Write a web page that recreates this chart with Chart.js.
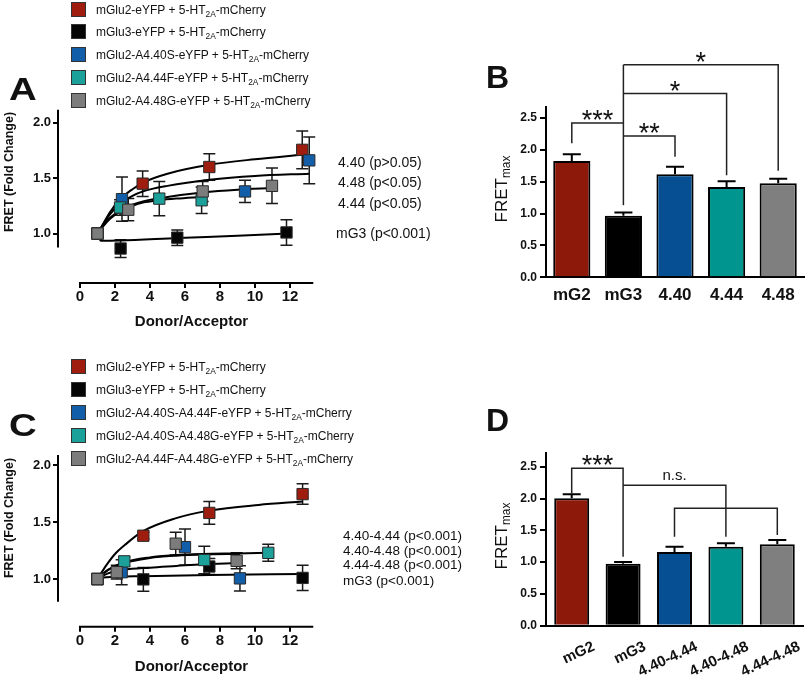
<!DOCTYPE html>
<html>
<head>
<meta charset="utf-8">
<title>FRET saturation and FRETmax</title>
<script src="https://cdn.jsdelivr.net/npm/chart.js"></script>
<style>
  body { margin: 0; background: #fff; width: 805px; height: 686px; position: relative; overflow: hidden;
         font-family: "Liberation Sans", Arial, Helvetica, sans-serif; color: #111; }
  canvas { position: absolute; }
  .t { position: absolute; white-space: nowrap; line-height: 1; }
  .sq { position: absolute; width: 13px; height: 13px; border: 1.5px solid #333; }
  .t sub { font-size: 0.7em; vertical-align: -0.3em; line-height: 0; }
  .rot { transform: translate(-50%, -50%) rotate(-90deg); }
  .wide { transform: scaleX(1.2); transform-origin: left top; }
</style>
</head>
<body>
<canvas id="chartA" width="335" height="235" style="left:0;top:100px"></canvas>
<canvas id="chartB" width="385" height="290" style="left:420px;top:40px"></canvas>
<canvas id="chartC" width="335" height="241" style="left:0;top:445px"></canvas>
<canvas id="chartD" width="385" height="296" style="left:420px;top:390px"></canvas>
<div id="overlay"></div>
<script>
const FONT = '"Liberation Sans", Arial, Helvetica, sans-serif';
Chart.defaults.font.family = FONT;
Chart.defaults.color = '#111';

// ---------- data ----------
const donorsA = ['mGlu2-eYFP', 'mGlu3-eYFP', 'mGlu2-A4.40S-eYFP', 'mGlu2-A4.44F-eYFP', 'mGlu2-A4.48G-eYFP'];
const donorsC = ['mGlu2-eYFP', 'mGlu3-eYFP', 'mGlu2-A4.40S-A4.44F-eYFP', 'mGlu2-A4.40S-A4.48G-eYFP', 'mGlu2-A4.44F-A4.48G-eYFP'];
const seriesColors = ['#9e1d0f', '#050505', '#135ea8', '#1ca09a', '#7c7c7c'];
const barColors = ['#8d190b', '#000000', '#064f92', '#00958f', '#7f7f7f'];

// points: [donor/acceptor, FRET fold change, SEM]
const ptsA_mG2 = [[1, 1, 0], [3.58, 1.45, 0.115], [7.39, 1.60, 0.12], [12.7, 1.755, 0.17]];
const ptsA_mG3 = [[1, 1, 0], [2.32, 0.865, 0.08], [5.56, 0.963, 0.07], [11.8, 1.01, 0.115]];
const ptsA_440 = [[1, 1, 0], [2.4, 1.31, 0.2], [9.43, 1.38, 0.1], [13.1, 1.66, 0.21]];
const ptsA_444 = [[1, 1, 0], [2.29, 1.235, 0.07], [4.53, 1.315, 0.155], [6.95, 1.30, 0.12]];
const ptsA_448 = [[1, 1, 0], [2.76, 1.215, 0.1], [7.01, 1.38, 0.09], [10.97, 1.43, 0.16]];

// fitted curves: [x, y]
const fitA_mG2 = [[1, 1], [1.3, 1.08], [1.7, 1.19], [2.3, 1.31], [3, 1.40], [3.6, 1.46], [5, 1.54], [7.4, 1.62], [10, 1.67], [12.7, 1.71]];
const fitA_mG3 = [[1, 0.99], [1.2, 0.935], [2.3, 0.938], [5.6, 0.96], [9, 0.98], [11.9, 1.0]];
const fitA_440 = [[1, 1], [1.3, 1.08], [1.7, 1.17], [2.3, 1.27], [3, 1.34], [3.6, 1.38], [5, 1.43], [7.4, 1.485], [10, 1.52], [13.1, 1.54]];
const fitA_444 = [[1, 1], [1.3, 1.06], [1.7, 1.13], [2.3, 1.2], [3, 1.25], [3.6, 1.28], [4.5, 1.30], [5.5, 1.315], [6.95, 1.33]];
const fitA_448 = [[1, 1], [1.3, 1.07], [1.7, 1.14], [2.3, 1.21], [3, 1.26], [3.6, 1.29], [5, 1.33], [7, 1.37], [9, 1.395], [11, 1.41]];

const ptsC_mG2 = [[1, 1, 0], [3.62, 1.38, 0.03], [7.39, 1.58, 0.1], [12.72, 1.745, 0.09]];
const ptsC_mG3 = [[1, 1, 0], [3.62, 0.997, 0.105], [7.39, 1.11, 0.07], [12.72, 1.01, 0.11]];
const ptsC_440_444 = [[1, 1, 0], [2.38, 1.06, 0.11], [6.0, 1.28, 0.16], [9.14, 1.006, 0.11]];
const ptsC_440_448 = [[1, 1, 0], [2.53, 1.155, 0.04], [7.1, 1.167, 0.12], [10.76, 1.23, 0.075]];
const ptsC_444_448 = [[1, 1, 0], [2.1, 1.06, 0.06], [5.47, 1.31, 0.1], [8.95, 1.16, 0.07]];

const fitC_mG2 = [[1, 1], [1.5, 1.12], [2, 1.22], [2.57, 1.30], [3.6, 1.42], [5.4, 1.53], [7.4, 1.60], [10.2, 1.65], [12.72, 1.68]];
const fitC_mG3 = [[1, 1], [1.5, 1.015], [3.6, 1.025], [7.4, 1.035], [12.72, 1.045]];
const fitC_440_444 = [[1, 1], [1.6, 1.08], [2.5, 1.14], [4, 1.185], [5.5, 1.205], [7, 1.215], [9.14, 1.22]];
const fitC_440_448 = [[1, 1], [1.6, 1.08], [2.5, 1.145], [4, 1.19], [5.5, 1.21], [7, 1.22], [9, 1.225], [10.76, 1.23]];
const fitC_444_448 = [[1, 1], [1.6, 1.05], [2.5, 1.08], [4, 1.10], [5.5, 1.115], [7, 1.13], [8.95, 1.14]];

const xTicksFret = [0, 2, 4, 6, 8, 10, 12];
const yTicksFret = [1.0, 1.5, 2.0];

const catsB = ['mG2', 'mG3', '4.40', '4.44', '4.48'];
const fretMaxB = [1.823, 0.966, 1.614, 1.415, 1.473];
const semB = [0.105, 0.05, 0.12, 0.09, 0.07];

const catsD = ['mG2', 'mG3', '4.40-4.44', '4.40-4.48', '4.44-4.48'];
const fretMaxD = [2.003, 0.975, 1.159, 1.242, 1.28];
const semD = [0.063, 0.025, 0.083, 0.053, 0.068];

const yTicksBar = [0, 0.5, 1.0, 1.5, 2.0, 2.5];

const pLabelsA = ['4.40 (p>0.05)', '4.48 (p<0.05)', '4.44 (p<0.05)', 'mG3 (p<0.001)'];
const pLabelsC = ['4.40-4.44 (p<0.001)', '4.40-4.48 (p<0.001)', '4.44-4.48 (p<0.001)', 'mG3 (p<0.001)'];

// significance brackets: paths of [category index, value]
const bracketsB = [
  [[0, 2.10], [0, 2.42], [1, 2.42]],
  [[1, 3.33], [1, 1.13]],
  [[1, 2.215], [2, 2.215], [2, 1.89]],
  [[1, 2.88], [3, 2.88], [3, 1.60]],
  [[1, 3.33], [4, 3.33], [4, 1.67]]
];
const starsB = [['***', 0.5, 2.42], ['**', 1.5, 2.215], ['*', 2, 2.88], ['*', 2.5, 3.33]];
const bracketsD = [
  [[0, 2.08], [0, 2.475], [1, 2.475], [1, 1.085]],
  [[1, 2.21], [3, 2.21], [3, 1.40]],
  [[2, 1.40], [2, 1.845], [4, 1.845], [4, 1.426]]
];
const starsD = [['***', 0.5, 2.475], ['n.s.', 2, 2.21]];

// ---------- plugins ----------
function axisLinesPlugin(xRange, yRange) {
  return {
    id: 'axisLines',
    afterDraw(chart) {
      const {ctx, chartArea, scales} = chart;
      ctx.save();
      ctx.strokeStyle = '#000';
      ctx.lineWidth = 2;
      ctx.beginPath();
      ctx.moveTo(scales.x.getPixelForValue(xRange[0]) - 1, chartArea.bottom);
      ctx.lineTo(scales.x.getPixelForValue(xRange[1]), chartArea.bottom);
      ctx.moveTo(chartArea.left, scales.y.getPixelForValue(yRange[0]));
      ctx.lineTo(chartArea.left, scales.y.getPixelForValue(yRange[1]));
      ctx.stroke();
      ctx.restore();
    }
  };
}

const scatterErr = {
  id: 'scatterErr',
  beforeDatasetsDraw(chart) {
    const {ctx, scales: {y}} = chart;
    ctx.save();
    ctx.strokeStyle = '#1a1a1a';
    ctx.lineWidth = 1.5;
    chart.data.datasets.forEach((ds, i) => {
      if (!ds.errors) return;
      const meta = chart.getDatasetMeta(i);
      meta.data.forEach((pt, j) => {
        const e = ds.errors[j];
        if (!e) return;
        const v = ds.data[j].y;
        const t = y.getPixelForValue(v + e), b = y.getPixelForValue(v - e);
        ctx.beginPath();
        ctx.moveTo(pt.x, t); ctx.lineTo(pt.x, b);
        ctx.moveTo(pt.x - 6, t); ctx.lineTo(pt.x + 6, t);
        ctx.moveTo(pt.x - 6, b); ctx.lineTo(pt.x + 6, b);
        ctx.stroke();
      });
    });
    ctx.restore();
  }
};

const barErr = {
  id: 'barErr',
  afterDatasetsDraw(chart) {
    const {ctx, scales: {y}} = chart;
    ctx.save();
    ctx.strokeStyle = '#000';
    ctx.lineWidth = 2;
    chart.data.datasets.forEach((ds, i) => {
      chart.getDatasetMeta(i).data.forEach((bar, j) => {
        const base = y.getPixelForValue(ds.data[j]);
        const top = y.getPixelForValue(ds.data[j] + ds.errors[j]);
        ctx.beginPath();
        ctx.moveTo(bar.x, base); ctx.lineTo(bar.x, top);
        ctx.moveTo(bar.x - 9, top); ctx.lineTo(bar.x + 9, top);
        ctx.stroke();
      });
    });
    ctx.restore();
  }
};

function bracketPlugin(paths, labels) {
  return {
    id: 'brackets',
    afterDraw(chart) {
      const {ctx, scales: {x, y}} = chart;
      ctx.save();
      ctx.strokeStyle = '#222';
      ctx.lineWidth = 1.5;
      paths.forEach(path => {
        ctx.beginPath();
        path.forEach(([i, v], k) => {
          const px = x.getPixelForValue(i), py = y.getPixelForValue(v);
          if (k) ctx.lineTo(px, py); else ctx.moveTo(px, py);
        });
        ctx.stroke();
      });
      ctx.fillStyle = '#111';
      ctx.textAlign = 'center';
      labels.forEach(([txt, i, v]) => {
        const star = txt.indexOf('*') >= 0;
        ctx.font = star ? '27px ' + FONT : '15px ' + FONT;
        ctx.fillText(txt, x.getPixelForValue(i), y.getPixelForValue(v) + (star ? 6 : -5));
      });
      ctx.restore();
    }
  };
}

// ---------- charts ----------
function makeScatter(id, pts, fits, o) {
  const datasets = [];
  fits.forEach(f => datasets.push({
    type: 'line',
    data: f.map(p => ({x: p[0], y: p[1]})),
    borderColor: '#000', borderWidth: 2, pointRadius: 0, fill: false,
    cubicInterpolationMode: 'monotone', order: 10
  }));
  pts.forEach((s, i) => datasets.push({
    type: 'scatter',
    data: s.map(p => ({x: p[0], y: p[1]})),
    errors: s.map(p => p[2]),
    pointStyle: 'rect', pointRadius: 8,
    backgroundColor: seriesColors[i], borderColor: '#2a2a2a', borderWidth: 1,
    order: 5 - i, clip: false
  }));
  return new Chart(document.getElementById(id), {
    type: 'scatter',
    data: {datasets},
    plugins: [scatterErr, axisLinesPlugin([0, 13.33], [o.yFrom, o.yMax])],
    options: {
      responsive: false, animation: false, events: [],
      layout: {padding: {top: o.padTop, right: 10, left: 0, bottom: 0}},
      plugins: {legend: {display: false}, tooltip: {enabled: false}},
      scales: {
        x: {
          type: 'linear', min: -1.257, max: 14,
          afterBuildTicks: s => { s.ticks = xTicksFret.map(v => ({value: v})); },
          afterFit: s => { s.height = o.xHeight; },
          border: {display: false},
          grid: {drawOnChartArea: false, tickLength: 5, lineWidth: 2, color: '#000'},
          ticks: {font: {size: 15, weight: 'bold'}, padding: 0, color: '#111'},
          title: {display: true, text: 'Donor/Acceptor', font: {size: 15, weight: 'bold'}, color: '#111',
                  padding: {top: 0, bottom: o.titlePad}}
        },
        y: {
          type: 'linear', min: o.yMin, max: o.yMax,
          afterBuildTicks: s => { s.ticks = yTicksFret.map(v => ({value: v})); },
          afterFit: s => { s.width = 58; },
          border: {display: false},
          grid: {drawOnChartArea: false, tickLength: 5, lineWidth: 2, color: '#000'},
          ticks: {font: {size: 13, weight: 'bold'}, padding: 2, color: '#111', callback: v => v.toFixed(1)}
        }
      }
    }
  });
}

function makeBars(id, cats, vals, errs, paths, labels, o) {
  return new Chart(document.getElementById(id), {
    type: 'bar',
    data: {
      labels: cats,
      datasets: [{
        data: vals, errors: errs,
        backgroundColor: barColors, borderColor: '#000', borderWidth: 2,
        barPercentage: o.barPct, categoryPercentage: 1
      }]
    },
    plugins: [barErr, bracketPlugin(paths, labels)],
    options: {
      responsive: false, animation: false, events: [],
      layout: {padding: {top: o.padTop, right: o.padRight, left: 0, bottom: 0}},
      plugins: {legend: {display: false}, tooltip: {enabled: false}},
      scales: {
        x: {
          afterFit: s => { s.height = o.xHeight; },
          grid: {display: false, drawTicks: false},
          border: {display: true, width: 2, color: '#000'},
          ticks: {font: {size: o.xFont, weight: 'bold'}, color: '#111', padding: o.xPad,
                  minRotation: o.rot, maxRotation: o.rot, labelOffset: o.labelOffset, autoSkip: false}
        },
        y: {
          min: 0, max: o.yMax,
          afterBuildTicks: s => { s.ticks = yTicksBar.map(v => ({value: v})); },
          afterFit: s => { s.width = 126; },
          border: {display: true, width: 2, color: '#000'},
          grid: {drawOnChartArea: false, tickLength: 6, lineWidth: 2, color: '#000'},
          ticks: {font: {size: 12, weight: 'bold'}, padding: 3, color: '#111', callback: v => v.toFixed(1)}
        }
      }
    }
  });
}

makeScatter('chartA', [ptsA_mG2, ptsA_mG3, ptsA_440, ptsA_444, ptsA_448],
  [fitA_mG2, fitA_mG3, fitA_440, fitA_444, fitA_448],
  {padTop: 8, xHeight: 52, yMin: 0.554, yMax: 2.116, yFrom: 0.875, titlePad: 4});
makeScatter('chartC', [ptsC_mG2, ptsC_mG3, ptsC_440_444, ptsC_440_448, ptsC_444_448],
  [fitC_mG2, fitC_mG3, fitC_440_444, fitC_440_448, fitC_444_448],
  {padTop: 10, xHeight: 59.3, yMin: 0.582, yMax: 2.088, yFrom: 0.80, titlePad: 10});
makeBars('chartB', catsB, fretMaxB, semB, bracketsB, starsB,
  {padTop: 66.7, padRight: 1, xHeight: 52.7, yMax: 2.674, barPct: 0.72, xFont: 17, xPad: 8, rot: 0, labelOffset: 0});
makeBars('chartD', catsD, fretMaxD, semD, bracketsD, starsD,
  {padTop: 63.3, padRight: 2, xHeight: 60.3, yMax: 2.711, barPct: 0.68, xFont: 15, xPad: 12, rot: 25, labelOffset: 22});

// ---------- text overlays ----------
const overlay = document.getElementById('overlay');
function put(html, style) {
  const d = document.createElement('div');
  d.className = 't';
  d.setAttribute('style', style);
  d.innerHTML = html;
  overlay.appendChild(d);
  return d;
}
function legend(names, y0, gap) {
  names.forEach((n, i) => {
    const cy = y0 + i * gap;
    const s = document.createElement('div');
    s.className = 'sq';
    s.style.left = '71px';
    s.style.top = (cy - 8) + 'px';
    s.style.background = seriesColors[i];
    overlay.appendChild(s);
    put(n + ' + 5-HT<sub>2A</sub>-mCherry', `left:96px;top:${cy - 6}px;font-size:12px;`);
  });
}
legend(donorsA, 9.5, 22.9);
legend(donorsC, 366.7, 23.1);

const pTopsA = [162, 182, 203, 233];
pLabelsA.forEach((t, i) => put(t, `left:${i === 3 ? 336 : 338}px;top:${pTopsA[i] - 7}px;font-size:14px;`));
const pTopsC = [536, 550.7, 564.3, 581];
pLabelsC.forEach((t, i) => put(t, `left:343px;top:${pTopsC[i] - 6.7}px;font-size:13.5px;`));

[['A', 9, 73, true], ['B', 486, 60.5, false], ['C', 9, 409, true], ['D', 486, 404, false]].forEach(([l, x, y, w]) => {
  const d = put(l, `left:${x}px;top:${y}px;font-size:32px;font-weight:bold;`);
  if (w) d.classList.add('wide');
});

put('FRET (Fold Change)', 'left:9px;top:172px;font-size:12.5px;font-weight:bold;').classList.add('rot');
put('FRET (Fold Change)', 'left:9px;top:518px;font-size:12.5px;font-weight:bold;').classList.add('rot');
put('FRET<sub>max</sub>', 'left:501px;top:189px;font-size:17px;').classList.add('rot');
put('FRET<sub>max</sub>', 'left:501px;top:536px;font-size:17px;').classList.add('rot');
</script>
</body>
</html>
